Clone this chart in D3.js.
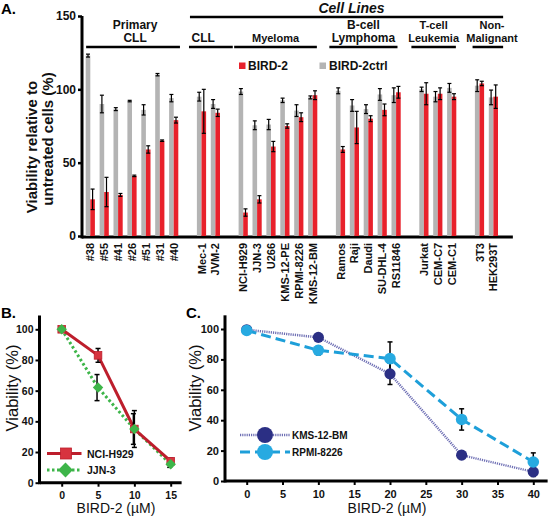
<!DOCTYPE html>
<html><head><meta charset="utf-8">
<script src="https://cdn.jsdelivr.net/npm/d3@7"></script>
<style>
body{margin:0;background:#fff;}
text{font-family:Arial,"Liberation Sans",sans-serif;}
</style></head>
<body><svg id="c" width="550" height="518"></svg>
<script>
// ---------- Panel A data ----------
const groups = ["Primary CLL","CLL","Myeloma","B-cell Lymphoma","T-cell Leukemia","Non-Malignant"];
const groupLabelLines = [["Primary","CLL"],["CLL"],["Myeloma"],["B-cell","Lymphoma"],["T-cell","Leukemia"],["Non-","Malignant"]];
const categories = ["#38","#55","#41","#26","#51","#31","#40",
  "Mec-1","JVM-2",
  "NCI-H929","JJN-3","U266","KMS-12-PE","RPMI-8226","KMS-12-BM",
  "Ramos","Raji","Daudi","SU-DHL-4","RS11846",
  "Jurkat","CEM-C7","CEM-C1",
  "3T3","HEK293T"];
const categoryGroup = [0,0,0,0,0,0,0, 1,1, 2,2,2,2,2,2, 3,3,3,3,3, 4,4,4, 5,5];
const bird2     = [25,30,28,41,59,65,79, 85,84, 16,25,61,75,81,96, 59,74,80,86,98, 97,97,95, 104,95];
const bird2Err  = [7,10,1,0.5,2.5,0.5,2, 15,2.5, 2.5,2.5,3.5,1.5,3,3, 2,11,2,4,4, 7.5,4,2, 1.5,8];
const ctrl      = [123,90,86.5,92,86,110,94, 95,90, 98.5,75.5,76,92.5,85.5,94.5, 99,89,86.5,96.5,96, 100,95,101, 102.5,94.5];
const ctrlErr   = [1,6,1,0.5,3.5,0.8,2.5, 3,3, 2,3,3.5,1.5,4,1, 2,4,3,4,5, 1.5,3.5,3, 4,5];
const yTicksA = [0,50,100,150];
const legendA = ["BIRD-2","BIRD-2ctrl"];

// ---------- Panel B data ----------
const doseB = [0,5,10,15];
const nciH929 = [100,83,35,14];
const nciH929Err = [0,4.5,12,2];
const jjn3 = [100,62,35,12];
const jjn3Err = [0,8.5,10,2];
const xTicksB = [0,5,10,15];
const yTicksB = [0,20,40,60,80,100];

// ---------- Panel C data ----------
const doseC = [0,10,20,30,40];
const kms12bm = [99.5,94.5,70.5,17,6];
const kms12bmErr = [0,1,7,0,3];
const rpmi8226 = [99,86,80.5,40.5,12.5];
const rpmi8226Err = [0,3,11,7,6];
const xTicksC = [0,5,10,15,20,25,30,35,40];
const yTicksC = [0,20,40,60,80,100];

const svg = d3.select("#c");
const RED="#e8212b", GRAY="#b4b4b4";

// ================= PANEL A =================
const slotOf = categories.map((c,i)=>i+categoryGroup[i]);
const xA = d3.scaleLinear().domain([0,29]).range([90.3,493.4]);
const yA = d3.scaleLinear().domain([0,150]).range([236,16]);
const A = svg.append("g");
A.append("text").attr("x",1).attr("y",14).attr("font-size",15).attr("font-weight","bold").text("A.");

// y axis
const axA = A.append("g").attr("transform","translate(82,0)")
  .call(d3.axisLeft(yA).tickValues(yTicksA).tickSize(4).tickSizeOuter(0).tickPadding(2));
axA.select(".domain").remove();
axA.selectAll(".tick line").attr("stroke","#000").attr("stroke-width",2.5);
axA.selectAll(".tick text").attr("font-size",12).attr("font-weight","bold").attr("fill","#111").attr("font-family","Arial,'Liberation Sans',sans-serif");
A.append("line").attr("x1",82).attr("x2",82).attr("y1",yA(0)+2.5).attr("y2",yA(150)).attr("stroke","#000").attr("stroke-width",3);
A.append("line").attr("x1",xA(-0.6)).attr("x2",xA(30.4)).attr("y1",yA(0)+1).attr("y2",yA(0)+1).attr("stroke","#000").attr("stroke-width",3);

// y title
A.append("text").attr("transform","translate(37,147) rotate(-90)").attr("text-anchor","middle")
  .attr("font-size",15).attr("font-weight","bold").attr("fill","#111").text("Viability relative to");
A.append("text").attr("transform","translate(53,139) rotate(-90)").attr("text-anchor","middle")
  .attr("font-size",15).attr("font-weight","bold").attr("fill","#111").text("untreated cells (%)");

// bars
const bw = 4.6;
const cats = categories.map((c,i)=>({c,i,s:slotOf[i]}));
A.selectAll("rect.ctrl").data(cats).join("rect").attr("class","ctrl")
  .attr("x",d=>xA(d.s)-bw).attr("width",bw).attr("y",d=>yA(ctrl[d.i])).attr("height",d=>yA(0)-yA(ctrl[d.i])).attr("fill",GRAY);
A.selectAll("rect.b2").data(cats).join("rect").attr("class","b2")
  .attr("x",d=>xA(d.s)).attr("width",bw).attr("y",d=>yA(bird2[d.i])).attr("height",d=>yA(0)-yA(bird2[d.i])).attr("fill",RED);
function errBar(g, cx, y1, y2, cap, w){
  g.append("line").attr("x1",cx).attr("x2",cx).attr("y1",y1).attr("y2",y2).attr("stroke","#000").attr("stroke-width",w);
  g.append("line").attr("x1",cx-cap/2).attr("x2",cx+cap/2).attr("y1",y1).attr("y2",y1).attr("stroke","#000").attr("stroke-width",w);
  g.append("line").attr("x1",cx-cap/2).attr("x2",cx+cap/2).attr("y1",y2).attr("y2",y2).attr("stroke","#000").attr("stroke-width",w);
}
cats.forEach(d=>{
  errBar(A, xA(d.s)-bw/2, yA(ctrl[d.i]+ctrlErr[d.i]), yA(ctrl[d.i]-ctrlErr[d.i]), 4, 1.2);
  errBar(A, xA(d.s)+bw/2, yA(bird2[d.i]+bird2Err[d.i]), yA(bird2[d.i]-bird2Err[d.i]), 4, 1.2);
});

// x labels
A.selectAll("text.xl").data(cats).join("text").attr("class","xl")
  .attr("transform",d=>`translate(${xA(d.s)+4},243) rotate(-90)`)
  .attr("text-anchor","end").attr("font-size",11).attr("font-weight","bold").attr("fill","#111").text(d=>d.c);

// group headers
const linePad = [[-0.3,0.45],[-0.9,1.25],[-0.65,0.3],[-0.8,0.1],[-0.9,0.3],[-0.5,0.7]];
const textShift = [0.15,-0.55,0,0,0,0.3];
const headerSize = [12,12,11,12,11,11];
groups.forEach((g,gi)=>{
  const idx = categories.map((c,i)=>i).filter(i=>categoryGroup[i]===gi);
  const s0 = slotOf[idx[0]], s1 = slotOf[idx[idx.length-1]];
  const x0 = xA(s0+linePad[gi][0]), x1 = xA(s1+linePad[gi][1]);
  A.append("line").attr("x1",x0).attr("x2",x1).attr("y1",47).attr("y2",47).attr("stroke","#000").attr("stroke-width",2.5);
  const cx = (x0+x1)/2 + textShift[gi]*13.9;
  const lines = groupLabelLines[gi];
  lines.forEach((t,k)=>{
    A.append("text").attr("x",cx).attr("y",42-(lines.length-1-k)*13).attr("text-anchor","middle")
      .attr("font-size",headerSize[gi]).attr("font-weight","bold").attr("fill","#111").text(t);
  });
});
// Cell Lines header
{
  const x0 = xA(slotOf[categoryGroup.indexOf(1)]-0.83), x1 = xA(29.7);
  A.append("line").attr("x1",x0).attr("x2",x1).attr("y1",17).attr("y2",17).attr("stroke","#000").attr("stroke-width",2.5);
  A.append("text").attr("x",(x0+x1)/2+5).attr("y",13).attr("text-anchor","middle").attr("font-size",14)
    .attr("font-weight","bold").attr("font-style","italic").attr("fill","#111").text("Cell Lines");
}
// legend A
A.append("rect").attr("x",239).attr("y",62.5).attr("width",6.5).attr("height",6.5).attr("fill",RED);
A.append("text").attr("x",248).attr("y",69.5).attr("font-size",12).attr("font-weight","bold").attr("fill","#111").text(legendA[0]);
A.append("rect").attr("x",319.5).attr("y",62.5).attr("width",6.5).attr("height",6.5).attr("fill",GRAY);
A.append("text").attr("x",329).attr("y",69.5).attr("font-size",12).attr("font-weight","bold").attr("fill","#111").text(legendA[1]);

// ================= PANEL B =================
const B = svg.append("g");
const xB = d3.scaleLinear().domain([0,15]).range([61.7,170.7]);
const yB = d3.scaleLinear().domain([0,100]).range([482.7,329.3]);
B.append("text").attr("x",1).attr("y",318).attr("font-size",15).attr("font-weight","bold").text("B.");
const axBy = B.append("g").attr("transform","translate(39.5,0)")
  .call(d3.axisLeft(yB).tickValues(yTicksB).tickSize(4).tickSizeOuter(0).tickPadding(2));
axBy.select(".domain").remove();
const axBx = B.append("g").attr("transform",`translate(0,${yB(0)})`)
  .call(d3.axisBottom(xB).tickValues(xTicksB).tickSize(4).tickSizeOuter(0).tickPadding(5));
axBx.select(".domain").remove();
[axBy,axBx].forEach(a=>{
  a.selectAll(".tick line").attr("stroke","#000").attr("stroke-width",2);
  a.selectAll(".tick text").attr("font-size",10.5).attr("font-weight","bold").attr("fill","#111").attr("font-family","Arial,'Liberation Sans',sans-serif");
});
B.append("line").attr("x1",39.5).attr("x2",39.5).attr("y1",yB(0)+1.5).attr("y2",yB(109)).attr("stroke","#000").attr("stroke-width",3);
B.append("line").attr("x1",xB(-3)).attr("x2",xB(16.5)).attr("y1",yB(0)).attr("y2",yB(0)).attr("stroke","#000").attr("stroke-width",3);
B.append("text").attr("transform","translate(18,388) rotate(-90)").attr("text-anchor","middle").attr("font-size",16.5).attr("fill","#111").text("Viability (%)");
B.append("text").attr("x",116).attr("y",513).attr("text-anchor","middle").attr("font-size",14).attr("fill","#111").text("BIRD-2 (µM)");

const NCI_LINE="#bd1e2c", NCI_FILL="#d7333f", JJN="#3db549";
const lineB = (vals)=>d3.line().x((d,i)=>xB(doseB[i])).y(d=>yB(d))(vals);
B.append("path").attr("d",lineB(jjn3)).attr("fill","none").attr("stroke",JJN).attr("stroke-width",3).attr("stroke-dasharray","2.5,2.5");
B.append("path").attr("d",lineB(nciH929)).attr("fill","none").attr("stroke",NCI_LINE).attr("stroke-width",3);
doseB.forEach((d,i)=>{
  if(nciH929Err[i]>0) errBar(B, xB(d), yB(nciH929[i]+nciH929Err[i]), yB(nciH929[i]-nciH929Err[i]), 5, 1.5);
  if(jjn3Err[i]>0) errBar(B, xB(d)-1, yB(jjn3[i]+jjn3Err[i]), yB(jjn3[i]-jjn3Err[i]), 5, 1.5);
});
B.selectAll("rect.nci").data(nciH929).join("rect").attr("class","nci")
  .attr("x",(d,i)=>xB(doseB[i])-3.8).attr("y",d=>yB(d)-3.8).attr("width",7.6).attr("height",7.6).attr("fill",NCI_FILL).attr("stroke",NCI_LINE).attr("stroke-width",0.8);
B.selectAll("path.jjn").data(jjn3).join("path").attr("class","jjn")
  .attr("transform",(d,i)=>`translate(${xB(doseB[i])},${yB(d)}) rotate(45)`)
  .attr("d",d3.symbol(d3.symbolSquare,55)).attr("fill",JJN);
// legend B
B.append("line").attr("x1",47).attr("x2",81.5).attr("y1",453.5).attr("y2",453.5).attr("stroke",NCI_LINE).attr("stroke-width",3);
B.append("rect").attr("x",60.5).attr("y",448).attr("width",11).attr("height",11).attr("fill",NCI_FILL).attr("stroke",NCI_LINE).attr("stroke-width",0.8);
B.append("text").attr("x",87).attr("y",457.5).attr("font-size",10.5).attr("font-weight","bold").attr("fill","#111").text("NCI-H929");
B.append("line").attr("x1",47).attr("x2",81.5).attr("y1",470).attr("y2",470).attr("stroke",JJN).attr("stroke-width",3).attr("stroke-dasharray","2.5,2.5");
B.append("path").attr("transform","translate(65.5,470) rotate(45)").attr("d",d3.symbol(d3.symbolSquare,110)).attr("fill",JJN);
B.append("text").attr("x",87).attr("y",474).attr("font-size",10.5).attr("font-weight","bold").attr("fill","#111").text("JJN-3");

// ================= PANEL C =================
const C = svg.append("g");
const xC = d3.scaleLinear().domain([0,40]).range([246.7,533.3]);
const yC = d3.scaleLinear().domain([0,100]).range([481,329]);
C.append("text").attr("x",186).attr("y",318).attr("font-size",15).attr("font-weight","bold").text("C.");
const axCy = C.append("g").attr("transform","translate(225,0)")
  .call(d3.axisLeft(yC).tickValues(yTicksC).tickSize(4).tickSizeOuter(0).tickPadding(2));
axCy.select(".domain").remove();
const axCx = C.append("g").attr("transform",`translate(0,${yC(0)})`)
  .call(d3.axisBottom(xC).tickValues(xTicksC).tickSize(4).tickSizeOuter(0).tickPadding(5));
axCx.select(".domain").remove();
[axCy,axCx].forEach(a=>{
  a.selectAll(".tick line").attr("stroke","#000").attr("stroke-width",2);
  a.selectAll(".tick text").attr("font-size",11).attr("font-weight","bold").attr("fill","#111").attr("font-family","Arial,'Liberation Sans',sans-serif");
});
C.append("line").attr("x1",225).attr("x2",225).attr("y1",yC(0)+1.5).attr("y2",yC(109)).attr("stroke","#000").attr("stroke-width",3);
C.append("line").attr("x1",xC(-3)).attr("x2",xC(42)).attr("y1",yC(0)).attr("y2",yC(0)).attr("stroke","#000").attr("stroke-width",3);
C.append("text").attr("transform","translate(201,388) rotate(-90)").attr("text-anchor","middle").attr("font-size",16.5).attr("fill","#111").text("Viability (%)");
C.append("text").attr("x",387).attr("y",513).attr("text-anchor","middle").attr("font-size",14).attr("fill","#111").text("BIRD-2 (µM)");

const KMS="#2b2f84", KMS_LINE="#6e6fb4", RPMI="#27aae1", RPMI_LINE="#1e9fd9";
const lineC = (vals)=>d3.line().x((d,i)=>xC(doseC[i])).y(d=>yC(d))(vals);
C.append("path").attr("d",lineC(kms12bm)).attr("fill","none").attr("stroke",KMS_LINE).attr("stroke-width",2.5).attr("stroke-dasharray","1.2,1");
C.append("path").attr("d",lineC(rpmi8226)).attr("fill","none").attr("stroke",RPMI_LINE).attr("stroke-width",3).attr("stroke-dasharray","10,5");
doseC.forEach((d,i)=>{
  if(kms12bmErr[i]>0) errBar(C, xC(d), yC(kms12bm[i]+kms12bmErr[i]), yC(kms12bm[i]-kms12bmErr[i]), 5, 1.5);
  if(rpmi8226Err[i]>0) errBar(C, xC(d), yC(rpmi8226[i]+rpmi8226Err[i]), yC(rpmi8226[i]-rpmi8226Err[i]), 5, 1.5);
});
const octagon = d3.symbol(d3.symbolCircle,110);
C.selectAll("circle.kms").data(kms12bm).join("circle").attr("class","kms")
  .attr("cx",(d,i)=>xC(doseC[i])).attr("cy",d=>yC(d)).attr("r",5.6).attr("fill",KMS);
C.selectAll("circle.rp").data(rpmi8226).join("circle").attr("class","rp")
  .attr("cx",(d,i)=>xC(doseC[i])).attr("cy",d=>yC(d)).attr("r",5.8).attr("fill",RPMI);
// legend C
C.append("line").attr("x1",240).attr("x2",290).attr("y1",435).attr("y2",435).attr("stroke",KMS_LINE).attr("stroke-width",2.5).attr("stroke-dasharray","1.2,1");
C.append("circle").attr("cx",265).attr("cy",435).attr("r",8).attr("fill",KMS);
C.append("text").attr("x",292).attr("y",439).attr("font-size",10).attr("font-weight","bold").attr("fill","#111").text("KMS-12-BM");
C.append("line").attr("x1",240).attr("x2",290).attr("y1",452).attr("y2",452).attr("stroke",RPMI_LINE).attr("stroke-width",3).attr("stroke-dasharray","10,5");
C.append("circle").attr("cx",265).attr("cy",452).attr("r",8).attr("fill",RPMI);
C.append("text").attr("x",292).attr("y",456).attr("font-size",10).attr("font-weight","bold").attr("fill","#111").text("RPMI-8226");
</script></body></html>
